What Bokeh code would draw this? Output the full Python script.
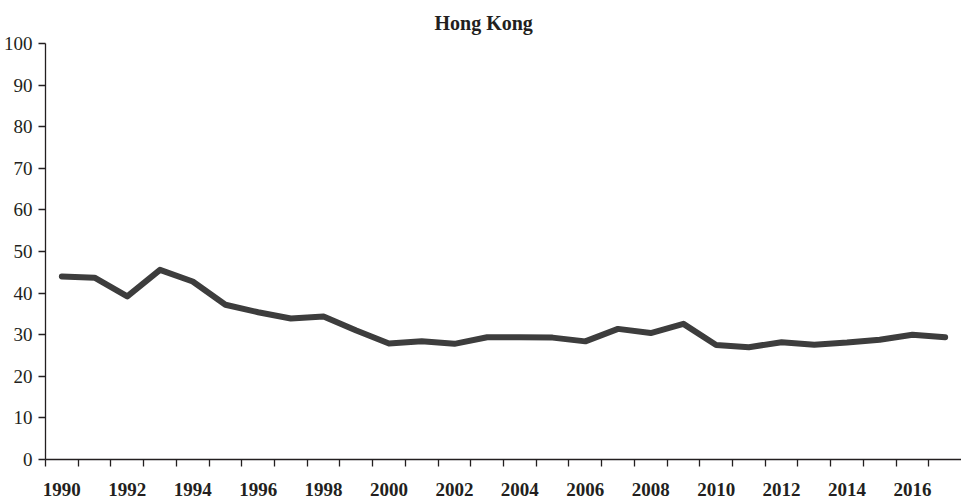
from bokeh.plotting import figure
from bokeh.models import FixedTicker, Range1d, ColumnDataSource
from bokeh.embed import file_html
from bokeh.resources import INLINE

years = list(range(1990, 2018))
values = [44.0, 43.7, 39.2, 45.6, 42.8, 37.2, 35.4, 33.9, 34.4, 31.0,
          27.9, 28.4, 27.8, 29.4, 29.4, 29.3, 28.4, 31.4, 30.4, 32.6,
          27.5, 27.0, 28.2, 27.6, 28.1, 28.8, 30.0, 29.4]
x_label_years = list(range(1990, 2017, 2))
y_ticks = list(range(0, 101, 10))
title_text = "Hong Kong"

FONT = "Liberation Serif"
TEXT = "#231f20"

src = ColumnDataSource(data=dict(year=years, value=values))

p = figure(frame_width=916, frame_height=416,
           x_range=Range1d(years[0] - 0.5, years[-1] + 0.5),
           y_range=Range1d(0, 100),
           output_backend="svg", toolbar_location=None,
           min_border_left=41, min_border_right=0, min_border_top=35, min_border_bottom=36)

p.line("year", "value", source=src, line_color="#3d3d3d", line_width=6,
       line_join="round", line_cap="round")

p.title.text = title_text
p.title.align = "left"
p.title.text_font = FONT
p.title.text_font_style = "bold"
p.title.text_font_size = "20px"
p.title.text_color = TEXT
p.title.offset = 389
p.title.standoff = 19

p.grid.visible = False
p.outline_line_color = None

xa = p.xaxis[0]
xa.ticker = FixedTicker(ticks=x_label_years,
                        minor_ticks=[y - 0.5 for y in years])
xa.major_tick_out = 0
xa.major_tick_in = 0
xa.minor_tick_out = 7
xa.minor_tick_in = 0
xa.minor_tick_line_color = TEXT
xa.minor_tick_line_width = 1.3
xa.axis_line_color = TEXT
xa.axis_line_width = 1.3
xa.major_label_text_font = FONT
xa.major_label_text_font_style = "bold"
xa.major_label_text_font_size = "19px"
xa.major_label_text_color = TEXT
xa.major_label_standoff = 16

ya = p.yaxis[0]
ya.ticker = FixedTicker(ticks=y_ticks, minor_ticks=[])
ya.major_tick_out = 7
ya.major_tick_in = 0
ya.major_tick_line_color = TEXT
ya.major_tick_line_width = 1.3
ya.axis_line_color = TEXT
ya.axis_line_width = 1.3
ya.major_label_text_font = FONT
ya.major_label_text_font_size = "19px"
ya.major_label_text_color = TEXT
ya.major_label_standoff = 6

open("out.html", "w").write(file_html(p, INLINE))
